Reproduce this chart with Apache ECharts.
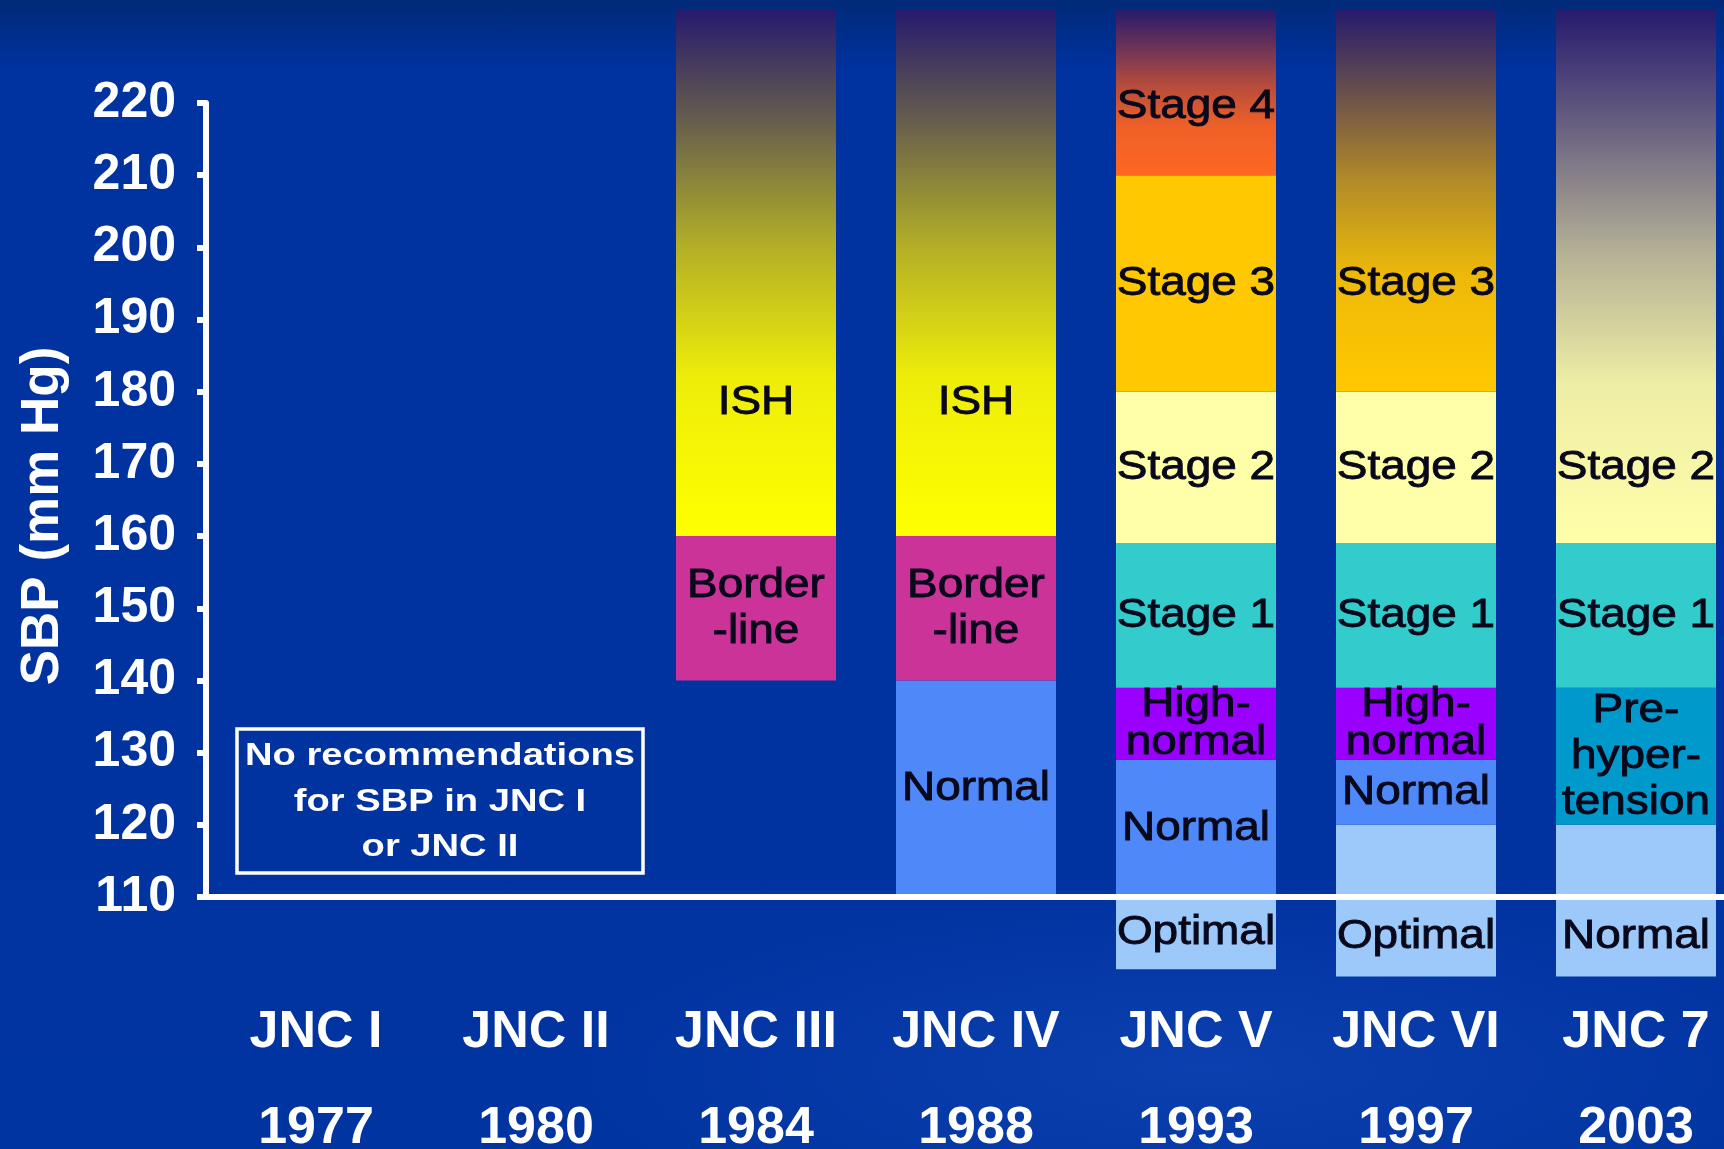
<!DOCTYPE html>
<html>
<head>
<meta charset="utf-8">
<title>SBP classification, JNC I – JNC 7</title>
<script src="https://cdn.jsdelivr.net/npm/echarts@6/dist/echarts.min.js"></script>
<style>
  html, body { margin: 0; padding: 0; width: 1724px; height: 1149px; overflow: hidden; }
  #chart {
    width: 1724px; height: 1149px;
    background:
      radial-gradient(ellipse 38% 16% at 70% 93%, rgba(40, 90, 210, 0.30), rgba(40, 90, 210, 0) 100%),
      linear-gradient(180deg, #012a78 0px, #0032a0 70px, #0034a0 100%);
  }
</style>
</head>
<body>
<div id="chart"></div>
<script>
// ---- Data -------------------------------------------------------------
const CATEGORIES = ['JNC I', 'JNC II', 'JNC III', 'JNC IV', 'JNC V', 'JNC VI', 'JNC 7'];
const YEARS = ['1977', '1980', '1984', '1988', '1993', '1997', '2003'];

// SBP scale (mm Hg)
const SBP_MIN = 110;
const SBP_MAX = 220;
const SBP_STEP = 10;
// Open-ended top classes keep fading upward to this level
const BAR_TOP = 233;

// Classes per report: [from, to] in mm Hg; "open" = no upper limit
const JNC_I = [];
const JNC_II = [];
const JNC_III = [
  { label: 'Border\n-line', from: 140, to: 160, tone: 'borderline' },
  { label: 'ISH', from: 160, to: 197, tone: 'ish', open: true }
];
const JNC_IV = [
  { label: 'Normal', from: 110, to: 140, tone: 'normal' },
  { label: 'Border\n-line', from: 140, to: 160, tone: 'borderline' },
  { label: 'ISH', from: 160, to: 197, tone: 'ish', open: true }
];
const JNC_V = [
  { label: 'Optimal', from: 100, to: 110, tone: 'optimal' },
  { label: 'Normal', from: 110, to: 129, tone: 'normal' },
  { label: 'High-\nnormal', from: 129, to: 139, tone: 'highNormal' },
  { label: 'Stage 1', from: 139, to: 159, tone: 'stage1' },
  { label: 'Stage 2', from: 159, to: 180, tone: 'stage2' },
  { label: 'Stage 3', from: 180, to: 210, tone: 'stage3' },
  { label: 'Stage 4', from: 210, to: 229, tone: 'stage4', open: true }
];
const JNC_VI = [
  { label: 'Optimal', from: 99, to: 120, tone: 'optimal' },
  { label: 'Normal', from: 120, to: 129, tone: 'normal' },
  { label: 'High-\nnormal', from: 129, to: 139, tone: 'highNormal' },
  { label: 'Stage 1', from: 139, to: 159, tone: 'stage1' },
  { label: 'Stage 2', from: 159, to: 180, tone: 'stage2' },
  { label: 'Stage 3', from: 180, to: 210, tone: 'stage3', open: true }
];
const JNC_7 = [
  { label: 'Normal', from: 99, to: 120, tone: 'optimal' },
  { label: 'Pre-\nhyper-\ntension', from: 120, to: 139, tone: 'prehypertension' },
  { label: 'Stage 1', from: 139, to: 159, tone: 'stage1' },
  { label: 'Stage 2', from: 159, to: 180, tone: 'stage2', open: true }
];
const REPORTS = [JNC_I, JNC_II, JNC_III, JNC_IV, JNC_V, JNC_VI, JNC_7];

const NOTE_TEXT = 'No recommendations\nfor SBP in JNC I\nor JNC II';

// ---- Styling ------------------------------------------------------------
const TONES = {
  borderline: '#cc3399',
  ish: '#ffff00',
  normal: '#4f88f8',
  optimal: '#9cc9fa',
  highNormal: '#9900ff',
  stage1: '#33cccc',
  stage2: '#ffffaa',
  stage3: '#ffc800',
  stage4: '#ff6622',
  prehypertension: '#0099cc'
};
const FADE_TOP = '#261a6e';
const FONT = '"Liberation Sans", Arial, Helvetica, sans-serif';
const BAR_RATIO = 160 / 220;

function hexToRgb(h) {
  const n = parseInt(h.slice(1), 16);
  return [(n >> 16) & 255, (n >> 8) & 255, n & 255];
}
function mix(a, b, t) {
  const A = hexToRgb(a), B = hexToRgb(b);
  const c = A.map((v, i) => Math.round(v + (B[i] - v) * t));
  return 'rgb(' + c.join(',') + ')';
}
function fadeFill(base) {
  return new echarts.graphic.LinearGradient(0, 1, 0, 0, [
    { offset: 0, color: base },
    { offset: 0.3, color: mix(base, FADE_TOP, 0.08) },
    { offset: 0.55, color: mix(base, FADE_TOP, 0.35) },
    { offset: 0.8, color: mix(base, FADE_TOP, 0.72) },
    { offset: 1, color: FADE_TOP }
  ]);
}

// Flatten the classes into custom-series rows: [category, from, to, drawn top]
const SEGMENTS = [];
REPORTS.forEach((classes, ci) => {
  classes.forEach(s => SEGMENTS.push({ ci, ...s }));
});
const seriesData = SEGMENTS.map(s => [s.ci, s.from, s.to, s.open ? BAR_TOP : s.to]);

function renderItem(params, api) {
  const seg = SEGMENTS[params.dataIndex];
  const cat = api.value(0);
  const from = api.value(1);
  const to = api.value(2);
  const top = api.value(3);
  const w = api.size([1, 0])[0] * BAR_RATIO;
  const pLo = api.coord([cat, from]);
  const pHi = api.coord([cat, top]);
  const base = TONES[seg.tone];

  // label sits in the middle of the class; a class that straddles the
  // baseline is labelled in its part below the axis
  let a = from, b = to;
  if (from < SBP_MIN && to > SBP_MIN) b = SBP_MIN;
  const yLabel = api.coord([cat, (a + b) / 2])[1];
  const lines = seg.label.split('\n').length;
  const segPx = Math.abs(api.coord([cat, from])[1] - api.coord([cat, to])[1]);
  const lineHeight = Math.min(46, segPx / lines + 2);

  return {
    type: 'group',
    children: [
      {
        type: 'rect',
        shape: { x: pLo[0] - w / 2, y: pHi[1], width: w, height: pLo[1] - pHi[1] },
        style: { fill: seg.open ? fadeFill(base) : base }
      },
      {
        type: 'text',
        x: pLo[0],
        y: yLabel,
        scaleX: 1.12,
        z2: 5,
        style: {
          text: seg.label,
          align: 'center',
          verticalAlign: 'middle',
          fontSize: 41,
          fontFamily: FONT,
          lineHeight: lineHeight,
          fill: '#08081a',
          stroke: '#08081a',
          lineWidth: 0.9
        }
      }
    ]
  };
}

const chart = echarts.init(document.getElementById('chart'), null, { renderer: 'canvas' });
chart.setOption({
  animation: false,
  backgroundColor: 'transparent',
  grid: {
    left: 206, right: -22, top: 103, bottom: 252,
    containLabel: false,
    outerBoundsMode: 'none'
  },
  xAxis: {
    type: 'category',
    data: CATEGORIES,
    z: 10,
    axisLine: { show: true, onZero: false, lineStyle: { color: '#ffffff', width: 6 } },
    axisTick: { show: false },
    splitLine: { show: false },
    axisLabel: {
      interval: 0,
      margin: 88,
      color: '#ffffff',
      fontSize: 52,
      fontWeight: 'bold',
      fontFamily: FONT,
      lineHeight: 96,
      formatter: (v, i) => v + '\n' + YEARS[i]
    }
  },
  yAxis: {
    type: 'value',
    min: SBP_MIN,
    max: SBP_MAX,
    interval: SBP_STEP,
    z: 10,
    name: 'SBP (mm Hg)',
    nameLocation: 'middle',
    nameGap: 136,
    nameTextStyle: {
      color: '#ffffff',
      fontSize: 53,
      fontWeight: 'bold',
      fontFamily: FONT,
      padding: [0, 32, 0, 0]
    },
    axisLine: { show: true, lineStyle: { color: '#ffffff', width: 6 } },
    axisTick: { show: true, length: 9, lineStyle: { color: '#ffffff', width: 6 } },
    axisLabel: {
      margin: 30,
      color: '#ffffff',
      fontSize: 50,
      fontWeight: 'bold',
      fontFamily: FONT
    },
    splitLine: { show: false }
  },
  graphic: [
    {
      type: 'group',
      x: 237,
      y: 729,
      children: [
        {
          type: 'rect',
          shape: { x: 0, y: 0, width: 406, height: 144 },
          style: { fill: 'none', stroke: '#ffffff', lineWidth: 3.5 }
        },
        {
          type: 'text',
          x: 203,
          y: 73,
          scaleX: 1.23,
          style: {
            text: NOTE_TEXT,
            align: 'center',
            verticalAlign: 'middle',
            fontSize: 31,
            fontWeight: 'bold',
            fontFamily: FONT,
            lineHeight: 45.5,
            fill: '#ffffff'
          }
        }
      ]
    }
  ],
  series: [
    {
      type: 'custom',
      renderItem: renderItem,
      data: seriesData,
      clip: false,
      z: 2,
      encode: { x: 0, y: [1, 2] }
    }
  ]
});
</script>
</body>
</html>
